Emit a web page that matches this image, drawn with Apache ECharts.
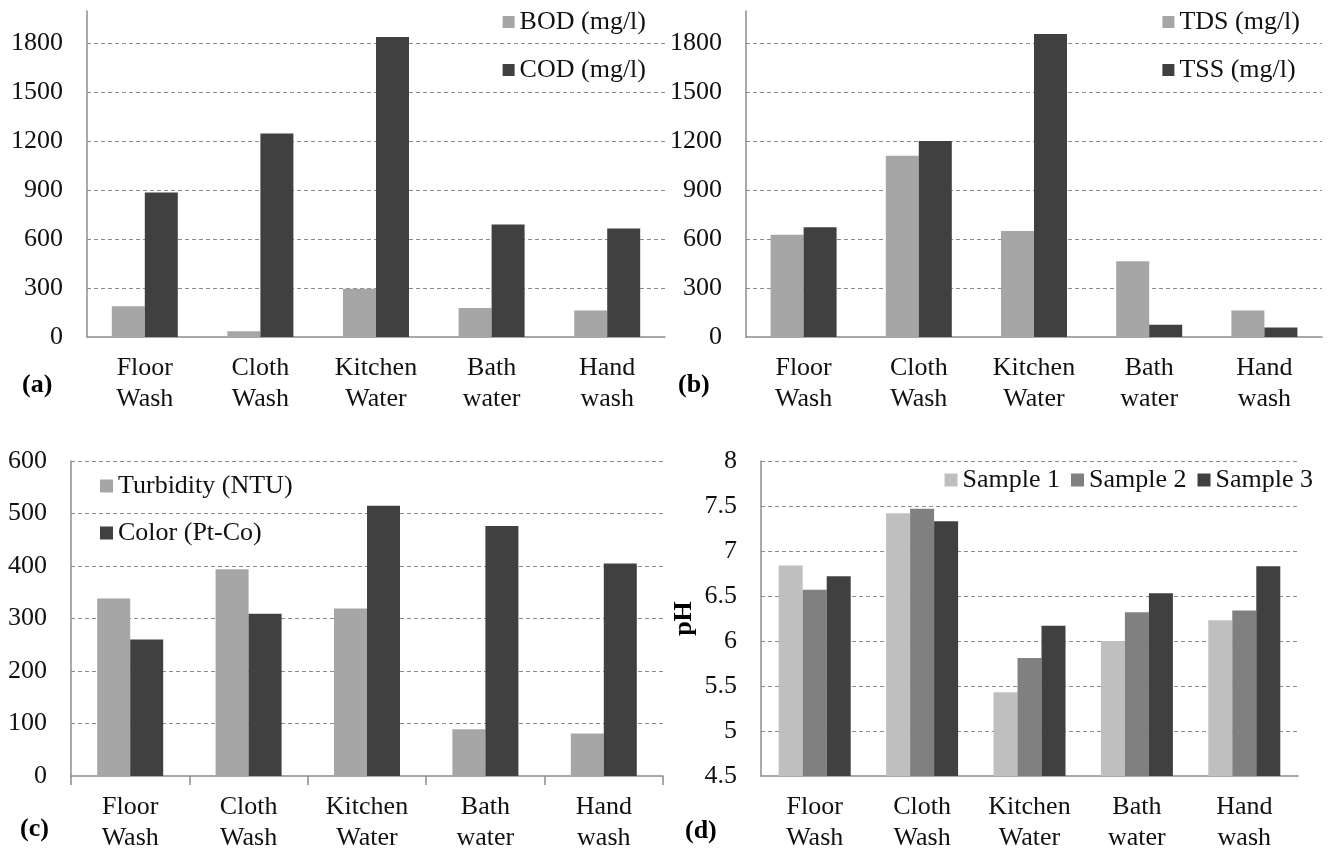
<!DOCTYPE html>
<html>
<head>
<meta charset="utf-8">
<script src="https://cdn.jsdelivr.net/npm/echarts@6/dist/echarts.min.js"></script>
<style>
html,body{margin:0;padding:0;background:#fff;}
#chart{width:1333px;height:856px;}
</style>
</head>
<body>
<div id="chart"></div>
<script>
const categories = ['Floor\nWash', 'Cloth\nWash', 'Kitchen\nWater', 'Bath\nwater', 'Hand\nwash'];
const bod = [188, 35, 296, 178, 163];
const cod = [886, 1249, 1841, 690, 665];
const tds = [627, 1112, 651, 465, 163];
const tss = [673, 1202, 1859, 75, 59];
const turbidity = [338, 394, 319, 89, 81];
const colorPtCo = [260, 309, 515, 476, 405];
const sample1 = [6.84, 7.42, 5.43, 6.00, 6.23];
const sample2 = [6.57, 7.47, 5.81, 6.32, 6.34];
const sample3 = [6.72, 7.33, 6.17, 6.53, 6.83];
const panelLabels = ['(a)', '(b)', '(c)', '(d)'];

const FONT = 'Liberation Serif';
const FS = 26;
const LIGHT = '#a6a6a6', DARK = '#404040';
const S1 = '#bfbfbf', S2 = '#808080', S3 = '#404040';
const AXIS_COLOR = '#8c8c8c';

function xAxis(gridIndex, ticks) {
  return {
    type: 'category', gridIndex, data: categories,
    axisLine: {show: true, lineStyle: {color: AXIS_COLOR, width: 1.5}},
    axisTick: {show: ticks, length: 9, lineStyle: {color: AXIS_COLOR, width: 1.5}},
    axisLabel: {color: '#111', fontFamily: FONT, fontSize: FS, lineHeight: 31, margin: 16, interval: 0},
    splitLine: {show: false}
  };
}
function yAxis(gridIndex, min, max, interval, showMax, extra) {
  return Object.assign({
    type: 'value', gridIndex, min, max, interval,
    axisLine: {show: true, lineStyle: {color: AXIS_COLOR, width: 1.5}},
    axisTick: {show: false},
    axisLabel: {color: '#111', fontFamily: FONT, fontSize: FS, margin: 24, showMaxLabel: showMax,
      formatter: v => String(v)},
    splitLine: {show: true, showMinLine: false, showMaxLine: showMax,
      lineStyle: {color: '#8c8c8c', type: [4, 3], width: 1}}
  }, extra || {});
}
function bar(name, data, color, xi, yi, w) {
  return {name, type: 'bar', xAxisIndex: xi, yAxisIndex: yi, data, barWidth: w, barGap: '0%',
    itemStyle: {color}, emphasis: {disabled: true}, animation: false};
}
const legendText = {color: '#111', fontFamily: FONT, fontSize: FS, lineHeight: 26};

const option = {
  animation: false,
  backgroundColor: '#fff',
  textStyle: {fontFamily: FONT},
  grid: [
    {left: 87, top: 11, width: 578, height: 326},
    {left: 746, top: 11, width: 576, height: 326},
    {left: 71, top: 461, width: 592, height: 315},
    {left: 761, top: 461, width: 537, height: 315}
  ],
  xAxis: [xAxis(0, false), xAxis(1, false), xAxis(2, true), xAxis(3, false)],
  yAxis: [
    yAxis(0, 0, 2000, 300, false),
    yAxis(1, 0, 2000, 300, false),
    yAxis(2, 0, 600, 100, true),
    yAxis(3, 4.5, 8, 0.5, true, {name: 'pH', nameLocation: 'middle', nameGap: 64, nameRotate: 90,
      nameTextStyle: {color: '#000', fontFamily: FONT, fontSize: FS, fontWeight: 'bold'}})
  ],
  legend: [
    {data: ['BOD (mg/l)', 'COD (mg/l)'], orient: 'vertical', right: 687, top: 9, padding: 0,
     itemWidth: 12, itemHeight: 12, itemGap: 22, itemTextGap: 6, icon: 'rect', textStyle: legendText, selectedMode: false},
    {data: ['TDS (mg/l)', 'TSS (mg/l)'], orient: 'vertical', right: 33, top: 9, padding: 0,
     itemWidth: 12, itemHeight: 12, itemGap: 22, itemTextGap: 6, icon: 'rect', textStyle: legendText, selectedMode: false},
    {data: ['Turbidity (NTU)', 'Color (Pt-Co)'], orient: 'vertical', left: 100, top: 473, padding: 0,
     itemWidth: 13, itemHeight: 13, itemGap: 21, itemTextGap: 5, icon: 'rect', textStyle: legendText, selectedMode: false},
    {data: ['Sample 1', 'Sample 2', 'Sample 3'], orient: 'horizontal', right: 20, top: 467, padding: 0,
     itemWidth: 13, itemHeight: 13, itemGap: 11, itemTextGap: 7, icon: 'rect', textStyle: legendText, selectedMode: false}
  ],
  graphic: [
    {type: 'text', left: 22, top: 372, style: {text: panelLabels[0], font: 'bold 26px ' + FONT, fill: '#000'}},
    {type: 'text', left: 678, top: 372, style: {text: panelLabels[1], font: 'bold 26px ' + FONT, fill: '#000'}},
    {type: 'text', left: 20, top: 816, style: {text: panelLabels[2], font: 'bold 26px ' + FONT, fill: '#000'}},
    {type: 'text', left: 685, top: 818, style: {text: panelLabels[3], font: 'bold 26px ' + FONT, fill: '#000'}}
  ],
  series: [
    bar('BOD (mg/l)', bod, LIGHT, 0, 0, 33),
    bar('COD (mg/l)', cod, DARK, 0, 0, 33),
    bar('TDS (mg/l)', tds, LIGHT, 1, 1, 33),
    bar('TSS (mg/l)', tss, DARK, 1, 1, 33),
    bar('Turbidity (NTU)', turbidity, LIGHT, 2, 2, 33),
    bar('Color (Pt-Co)', colorPtCo, DARK, 2, 2, 33),
    bar('Sample 1', sample1, S1, 3, 3, 24),
    bar('Sample 2', sample2, S2, 3, 3, 24),
    bar('Sample 3', sample3, S3, 3, 3, 24)
  ]
};
const chart = echarts.init(document.getElementById('chart'), null, {renderer: 'canvas'});
chart.setOption(option);
</script>
</body>
</html>
